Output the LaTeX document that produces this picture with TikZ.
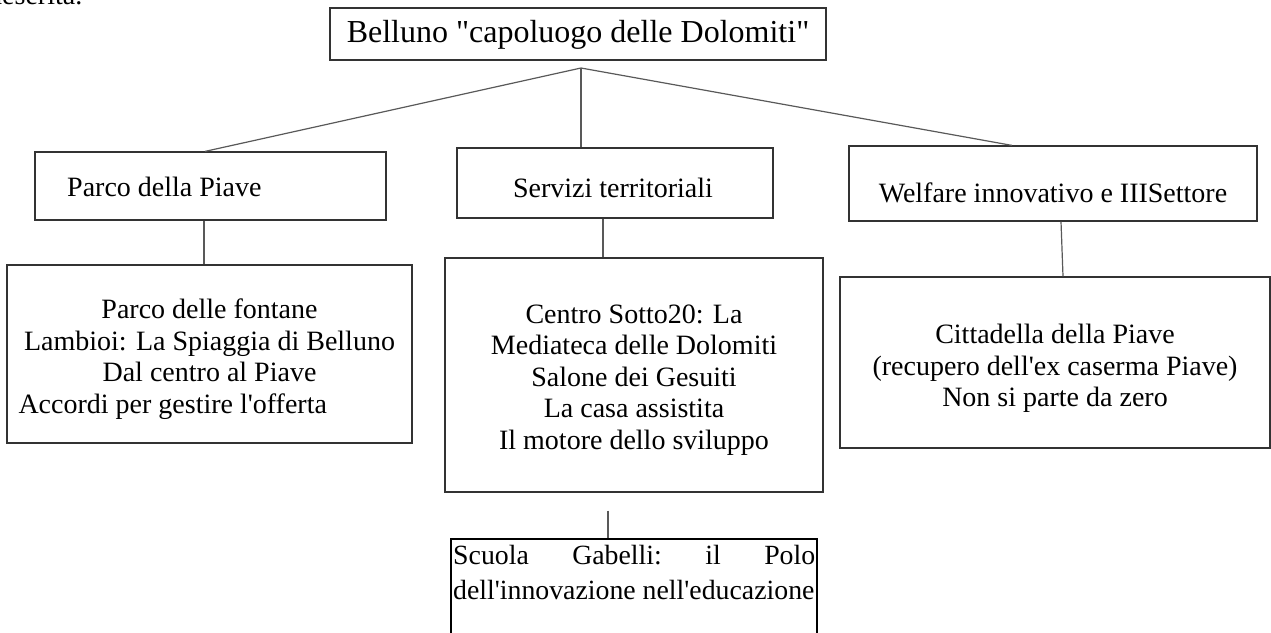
\documentclass[tikz,border=0pt]{standalone}
\usepackage{fontspec}
\setmainfont{Liberation Serif}
\newcommand{\dq}{\textquotedbl}
\newcommand{\sq}{\textquotesingle}
\tikzset{
  box/.style={draw=black!80, line width=1.2pt, rectangle, inner sep=0pt},
  txt/.style={inner sep=0pt, align=center, font=\fontsize{28}{31.5}\selectfont},
  conn/.style={draw=black!65, line width=1.2pt},
}
\begin{document}
\begin{tikzpicture}[x=1pt,y=-1pt]
\useasboundingbox (0,0) rectangle (1271,632);
\node[anchor=base west, inner sep=0pt, font=\fontsize{28}{32}\selectfont] (cut) at (-12,4) {deserita.};
% top
\node[box, minimum width=496, minimum height=52] (top) at (578,34) {};
\node[txt, font=\fontsize{32}{36}\selectfont] (topt) at ([yshift=-1pt]top.center) {Belluno \dq capoluogo delle Dolomiti\dq};
\coordinate (j) at (581,68);
% second level
\node[box, minimum width=351, minimum height=68] (parco) at (210.5,186) {};
\node[txt, anchor=base west] (parcot) at (67,196.5) {Parco della Piave};
\node[box, minimum width=316, minimum height=70] (serv) at (615,183) {};
\node[txt, anchor=base] (servt) at (613,197) {Servizi territoriali};
\node[box, minimum width=408, minimum height=75] (welf) at (1053,183.5) {};
\node[txt, anchor=base] (welft) at (1053,202) {Welfare innovativo e IIISettore};
% third level
\node[box, minimum width=405, minimum height=178] (psub) at (209.5,354) {};
\node[txt] (psubt) at ([yshift=-5pt]psub.center) {Parco delle fontane\\Lambioi: La Spiaggia di Belluno\\Dal centro al Piave\\\makebox[382pt][l]{Accordi per gestire l\sq offerta}};
\node[box, minimum width=378, minimum height=234] (ssub) at (634,375) {};
\node[txt] (ssubt) at ([yshift=-5pt]ssub.center) {Centro Sotto20: La\\Mediateca delle Dolomiti\\Salone dei Gesuiti\\La casa assistita\\Il motore dello sviluppo};
\node[box, minimum width=430, minimum height=171] (wsub) at (1055,362.5) {};
\node[txt] (wsubt) at ([yshift=-6pt]wsub.center) {Cittadella della Piave\\(recupero dell\sq ex caserma Piave)\\Non si parte da zero};
% fourth level
\node[box, draw=black, minimum width=366, minimum height=121] (gab) at (634,599.5) {};
\node[anchor=north west, inner sep=0pt, align=left, font=\fontsize{27.8}{35}\selectfont] (gabt) at (453,545) {\makebox[362pt][s]{Scuola\hfill Gabelli:\hfill il\hfill Polo}\\dell\sq innovazione nell\sq educazione};
% connectors
\draw[conn] (j) -- ([xshift=-5.5pt]parco.north);
\draw[conn] (j) -- ([xshift=-34pt]serv.north);
\draw[conn] (j) -- ([xshift=-41pt]welf.north);
\draw[conn] ([xshift=-6.5pt]parco.south) -- ([xshift=-5.5pt]psub.north);
\draw[conn] ([xshift=-12pt]serv.south) -- ([xshift=-31pt]ssub.north);
\draw[conn] ([xshift=8pt]welf.south) -- ([xshift=8pt]wsub.north);
\coordinate (gs) at ([xshift=-26pt,yshift=-18pt]ssub.south);
\draw[conn] (gs) -- ([xshift=-26pt]gab.north);
\end{tikzpicture}
\end{document}
